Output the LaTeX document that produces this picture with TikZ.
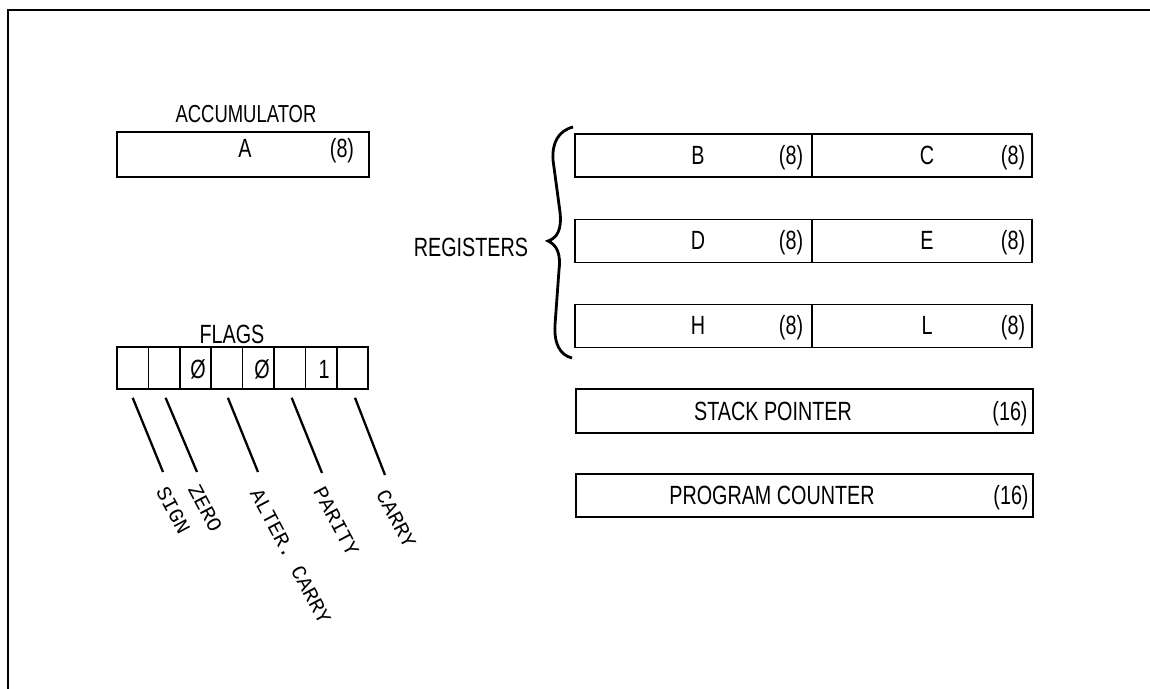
\documentclass[tikz,border=0pt]{standalone}
\usepackage{fontspec}
\setmainfont{Liberation Sans}[FakeStretch=0.75]
\newfontfamily\labelmono{Liberation Mono}
\begin{document}
\begin{tikzpicture}[x=0.02cm,y=-0.02cm,
  regbox/.style={draw, line width=0.9pt, inner sep=0pt},
  txt/.style={inner sep=0pt, anchor=base, font=\fontsize{15}{17}\selectfont},
  flagline/.style={line width=1.3pt},
  flaglabel/.style={inner sep=0pt, anchor=north west, rotate=-62, font=\labelmono\fontsize{11.8}{13}\selectfont}]
\useasboundingbox (0,0) rectangle (1150,689);
% frame
\draw[line width=1.1pt] (8,689) -- (8,10) -- (1150,10);
% accumulator
\node[txt, font=\fontsize{14}{16}\selectfont] (acclbl) at (246,123) {ACCUMULATOR};
\node[regbox, minimum width=5.04cm, minimum height=0.9cm] (acc) at (243,154.5) {};
\node[txt] (acca) at (245,158) {A};
\node[txt] (acc8) at (342,158) {(8)};
% flags
\foreach \i in {1,...,8} {
  \node[regbox, minimum width=0.628cm, minimum height=0.84cm] (f\i) at ({117+15.7+31.4*(\i-1)},368) {};
}
\node[txt] (flagslbl) at (232,343) {FLAGS};
\node[txt] (d3) at (198,378) {Ø};
\node[txt] (d5) at (262,378) {Ø};
\node[txt] (d7) at (324,378) {1};
\coordinate (e1) at (163,472);
\coordinate (e2) at (197,472);
\coordinate (e4) at (258,472);
\coordinate (e6) at (322,473);
\coordinate (e8) at (385,475);
\draw[flagline] ([yshift=-0.16cm]f1.south) -- (e1);
\draw[flagline] ([yshift=-0.16cm,xshift=0.03cm]f2.south) -- (e2);
\draw[flagline] ([yshift=-0.16cm,xshift=0.02cm]f4.south) -- (e4);
\draw[flagline] ([yshift=-0.16cm,xshift=0.04cm]f6.south) -- (e6);
\draw[flagline] ([yshift=-0.16cm,xshift=0.05cm]f8.south) -- (e8);
\node[flaglabel] (lsign) at (168,485) {SIGN};
\node[flaglabel] (lzero) at (200,483) {ZERO};
\node[flaglabel] (lac) at (262,487) {ALTER. CARRY};
\node[flaglabel] (lpar) at (325,485) {PARITY};
\node[flaglabel] (lcar) at (388,488) {CARRY};
% registers
\node[txt] (reglbl) at (471,257) {REGISTERS};
\draw[line width=1.6pt] (573,127) .. controls (558,131) and (552,143) .. (553,160)
  -- (560,212) .. controls (562,230) and (557,238) .. (548,241)
  .. controls (557,245) and (561,254) .. (559,270)
  -- (555,325) .. controls (554,344) and (560,355) .. (572,358);
\foreach \r/\y/\l/\m in {b/155.5/B/C, d/241/D/E, h/326/H/L} {
  \node[regbox, minimum width=4.74cm, minimum height=0.86cm] (\r1) at (693.5,\y) {};
  \node[regbox, minimum width=4.4cm, minimum height=0.86cm] (\r2) at (922,\y) {};
  \node[txt] (\r1t) at (698,\y+9) {\l};
  \node[txt] (\r1n) at (791,\y+9) {(8)};
  \node[txt] (\r2t) at (927,\y+9) {\m};
  \node[txt] (\r2n) at (1013,\y+9) {(8)};
}
\node[regbox, minimum width=9.14cm, minimum height=0.88cm] (sp) at (804.5,411) {};
\node[txt] (spt) at (773,420) {STACK POINTER};
\node[txt] (spn) at (1010,420) {(16)};
\node[regbox, minimum width=9.14cm, minimum height=0.86cm] (pc) at (804.5,495.5) {};
\node[txt] (pct) at (772,504.5) {PROGRAM COUNTER};
\node[txt] (pcn) at (1011,504.5) {(16)};
\end{tikzpicture}
\end{document}
